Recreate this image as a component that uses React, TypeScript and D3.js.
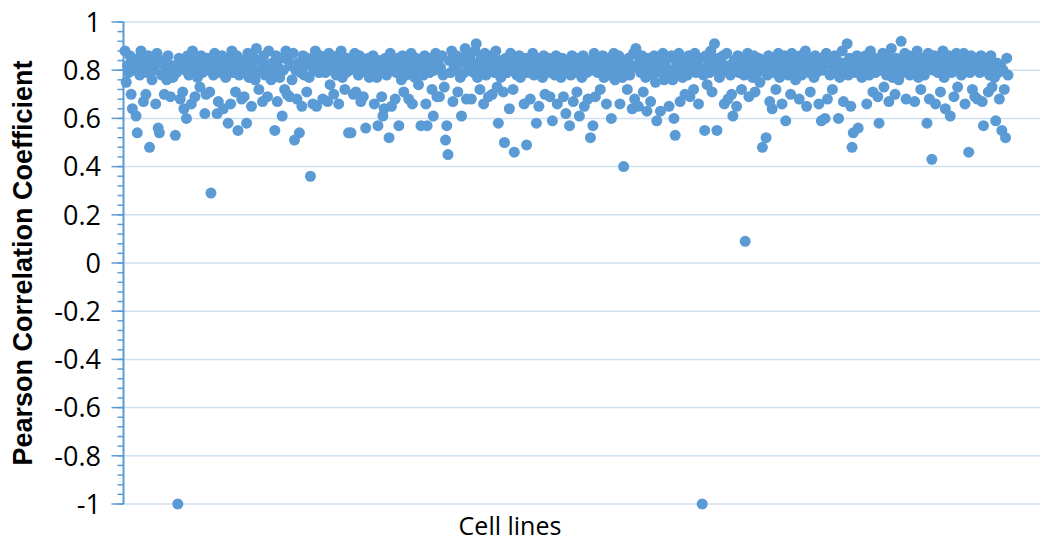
import React from "react";
import * as d3 from "d3";

// Pearson r per cell line, in hundredths, read left to right (40 per chunk)
const seg0 = [88, 75, 82, 79, 86, 70, 64, 83, 80, 61, 54, 85, 78, 88, 81, 67, 84, 70, 79, 86, 48, 82, 76, 85, 80, 66, 87, 56, 54, 83, 78, 84, 70, 81, 76, 86, 79, 69, 82, 77];
const seg1 = [81, 53, 79, -100, 85, 68, 83, 71, 64, 80, 60, 86, 78, 82, 66, 88, 80, 69, 84, 77, 82, 73, 86, 79, 83, 62, 70, 85, 80, 71, 29, 84, 78, 87, 81, 62, 67, 83, 79, 86];
const seg2 = [64, 82, 77, 85, 58, 80, 66, 88, 79, 83, 71, 86, 55, 78, 82, 68, 84, 69, 80, 58, 87, 77, 83, 65, 81, 85, 76, 89, 79, 72, 84, 80, 67, 86, 78, 82, 69, 88, 81, 76];
const seg3 = [83, 79, 55, 86, 67, 81, 77, 85, 61, 80, 72, 88, 70, 84, 69, 82, 76, 87, 51, 80, 68, 83, 54, 79, 65, 86, 78, 82, 71, 85, 77, 36, 84, 66, 80, 88, 65, 82, 79, 86];
const seg4 = [81, 68, 85, 79, 83, 67, 87, 74, 80, 84, 70, 82, 78, 86, 66, 81, 88, 77, 83, 72, 79, 85, 54, 80, 54, 84, 70, 87, 71, 82, 78, 86, 67, 81, 69, 84, 56, 79, 85, 77];
const seg5 = [83, 79, 86, 66, 81, 77, 57, 84, 80, 69, 61, 64, 85, 78, 82, 52, 87, 65, 80, 83, 68, 79, 85, 57, 81, 76, 86, 71, 83, 78, 84, 68, 80, 87, 66, 82, 77, 85, 79, 74];
const seg6 = [81, 57, 84, 78, 86, 66, 57, 82, 79, 85, 72, 61, 80, 87, 69, 83, 69, 81, 86, 78, 73, 51, 57, 45, 84, 79, 88, 67, 82, 80, 86, 71, 83, 77, 61, 85, 79, 89, 68, 82];
const seg7 = [80, 86, 68, 83, 79, 88, 91, 77, 82, 72, 85, 80, 66, 87, 78, 83, 69, 81, 86, 70, 82, 79, 88, 73, 58, 84, 77, 81, 71, 50, 85, 79, 83, 64, 87, 80, 72, 46, 84, 78];
const seg8 = [82, 86, 77, 83, 80, 66, 85, 49, 79, 84, 68, 82, 87, 78, 81, 58, 85, 65, 80, 84, 77, 86, 70, 82, 79, 85, 69, 81, 59, 84, 78, 86, 66, 80, 83, 77, 85, 69, 82, 62];
const seg9 = [80, 84, 57, 78, 86, 67, 82, 79, 71, 85, 61, 81, 77, 86, 65, 83, 79, 68, 84, 52, 80, 57, 87, 69, 82, 79, 85, 72, 81, 86, 77, 83, 66, 80, 85, 78, 60, 82, 87, 76];
const seg10 = [83, 79, 86, 66, 81, 77, 40, 84, 80, 72, 85, 78, 82, 64, 87, 68, 89, 81, 65, 84, 79, 86, 71, 82, 77, 63, 85, 80, 67, 83, 78, 86, 75, 59, 81, 84, 63, 79, 87, 76];
const seg11 = [82, 78, 85, 65, 80, 86, 76, 60, 53, 83, 79, 87, 67, 81, 77, 85, 70, 82, 78, 86, 69, 80, 84, 72, 87, 79, 83, 66, 81, 85, -100, 78, 55, 86, 74, 82, 79, 88, 71, 84];
const seg12 = [91, 80, 55, 85, 77, 83, 79, 86, 66, 81, 87, 68, 82, 78, 70, 61, 84, 80, 65, 86, 79, 83, 72, 85, 78, 9, 82, 87, 69, 80, 84, 77, 86, 71, 81, 79, 85, 75, 83, 48];
const seg13 = [80, 84, 52, 78, 86, 67, 82, 64, 79, 85, 72, 81, 87, 77, 83, 66, 80, 86, 59, 82, 78, 84, 70, 87, 79, 83, 76, 85, 81, 68, 86, 78, 82, 80, 88, 65, 84, 79, 71, 85];
const seg14 = [81, 77, 86, 79, 83, 66, 85, 59, 80, 82, 60, 87, 68, 83, 78, 85, 72, 81, 86, 79, 84, 60, 77, 82, 88, 67, 83, 80, 91, 78, 85, 65, 48, 54, 82, 79, 86, 56, 81, 84];
const seg15 = [77, 83, 80, 86, 66, 82, 78, 88, 81, 71, 85, 79, 83, 69, 58, 84, 80, 87, 73, 82, 78, 86, 67, 81, 89, 77, 83, 70, 85, 80, 76, 84, 92, 79, 82, 87, 68, 81, 86, 78];
const seg16 = [83, 79, 86, 67, 81, 88, 77, 84, 72, 80, 85, 78, 82, 58, 87, 68, 83, 43, 80, 86, 66, 81, 79, 85, 71, 83, 88, 77, 64, 82, 80, 86, 61, 79, 84, 69, 82, 87, 73, 81];
const seg17 = [85, 78, 82, 87, 66, 80, 83, 46, 79, 86, 72, 81, 69, 85, 68, 83, 79, 86, 67, 57, 82, 80, 84, 71, 78, 86, 73, 81, 77, 59, 83, 79, 68, 82, 55, 80, 72, 52, 85, 78];

const pearson = [
  ...seg0, ...seg1, ...seg2, ...seg3, ...seg4, ...seg5, ...seg6, ...seg7, ...seg8,
  ...seg9, ...seg10, ...seg11, ...seg12, ...seg13, ...seg14, ...seg15, ...seg16, ...seg17,
].map((v) => v / 100);

const yTicks = [-1, -0.8, -0.6, -0.4, -0.2, 0, 0.2, 0.4, 0.6, 0.8, 1];
const yTitle = "Pearson Correlation Coefficient";
const xTitle = "Cell lines";

export default function App() {
  const w = 1048;
  const h = 544;
  const axisX = 123.5;
  const right = 1040;

  const x = d3.scaleLinear().domain([0, pearson.length - 1]).range([125, 1008]);
  const y = d3.scaleLinear().domain([-1, 1]).range([504, 22]);
  const minor = d3.range(-1, 1.0001, 0.04);

  const axisColor = "#5b9bd5";
  const gridColor = "#cfe0f1";

  return (
    <svg width={w} height={h} style={{ position: "absolute", left: 0, top: 0, background: "#fff" }}>
      {yTicks.map((t) => (
        <line key={"g" + t} x1={axisX} x2={right} y1={y(t)} y2={y(t)} stroke={gridColor} strokeWidth={1.5} />
      ))}
      <line x1={axisX} x2={axisX} y1={y(1)} y2={y(-1)} stroke={axisColor} strokeWidth={2} />
      {minor.map((t, i) => (
        <line key={"m" + i} x1={axisX - 6} x2={axisX} y1={y(t)} y2={y(t)} stroke={axisColor} strokeWidth={1.5} />
      ))}
      {yTicks.map((t) => (
        <line key={"t" + t} x1={axisX - 12} x2={axisX} y1={y(t)} y2={y(t)} stroke={axisColor} strokeWidth={1.5} />
      ))}
      {yTicks.map((t) => (
        <text
          key={"l" + t}
          x={101}
          y={y(t)}
          dy="0.36em"
          textAnchor="end"
          fontFamily="'Open Sans', sans-serif"
          fontSize={27}
          fill="#000"
        >
          {d3.format("")(t).replace("−", "-")}
        </text>
      ))}
      <g>
        {pearson.map((v, i) => (
          <circle key={i} cx={x(i)} cy={y(v)} r={5.5} fill={axisColor} />
        ))}
      </g>
      <text
        transform={`translate(32,263) rotate(-90)`}
        textAnchor="middle"
        fontFamily="'Liberation Sans', Arial, sans-serif"
        fontWeight="bold"
        fontSize={27}
        fill="#000"
      >
        {yTitle}
      </text>
      <text
        x={510}
        y={535}
        textAnchor="middle"
        fontFamily="'Open Sans', sans-serif"
        fontSize={25}
        fill="#000"
      >
        {xTitle}
      </text>
    </svg>
  );
}
